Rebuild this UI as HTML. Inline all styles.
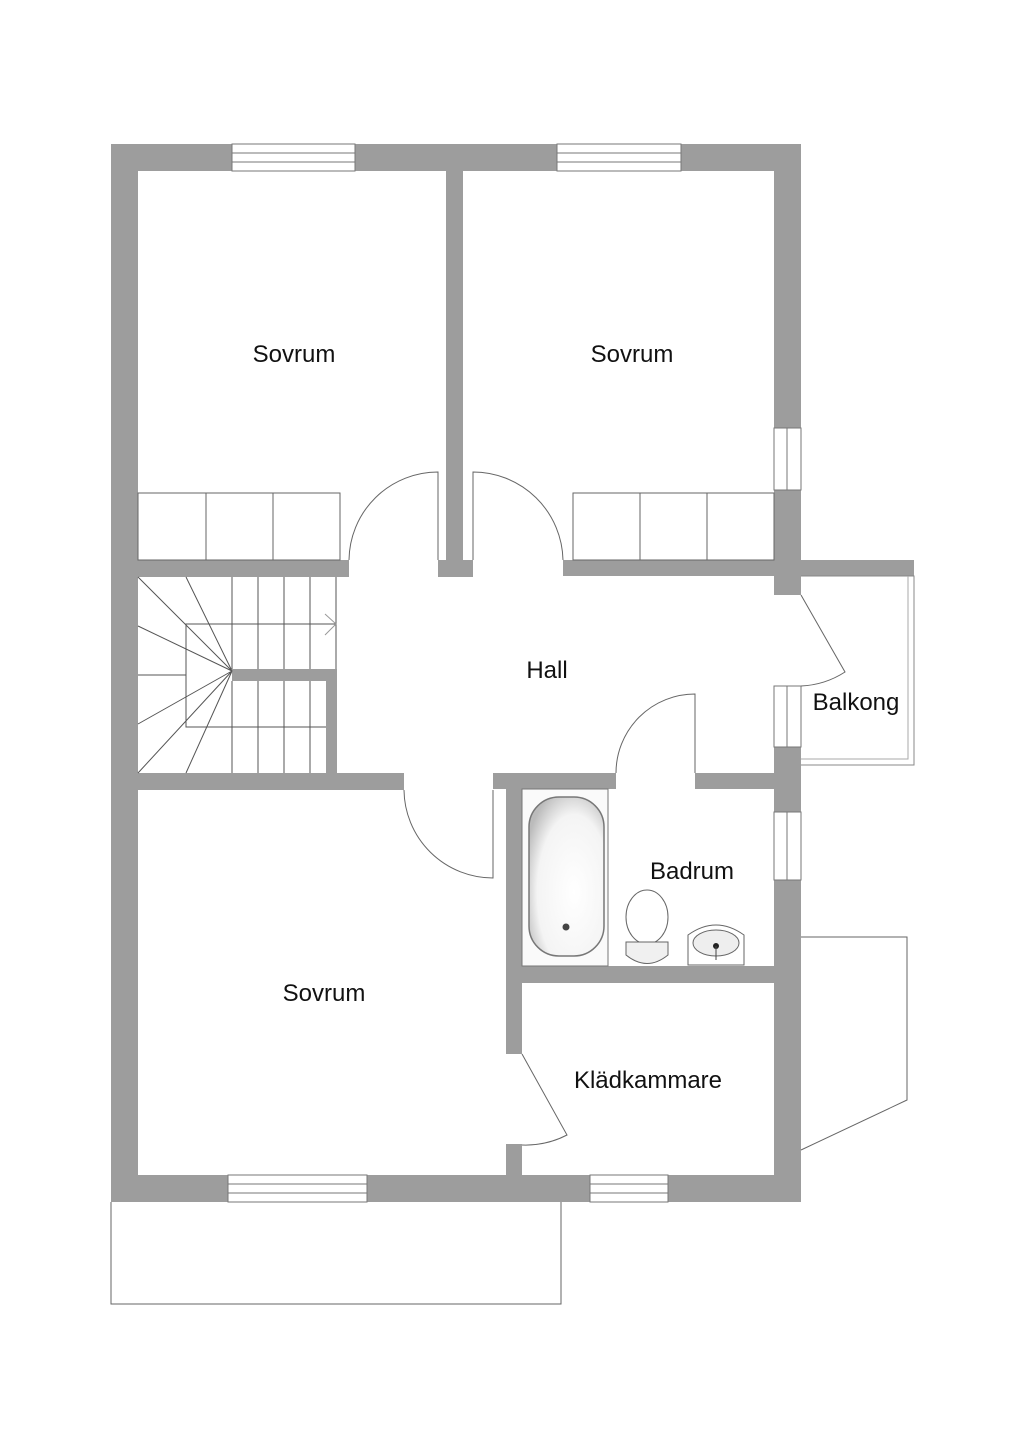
<!DOCTYPE html>
<html><head><meta charset="utf-8"><style>
html,body{margin:0;padding:0;background:#fff;}
svg{display:block}
text{font-family:"Liberation Sans",sans-serif;font-size:24px;fill:#111;text-anchor:middle;}
</style></head><body>
<svg width="1024" height="1449" viewBox="0 0 1024 1449" xmlns="http://www.w3.org/2000/svg">
<defs>
<radialGradient id="tub" cx="0.6" cy="0.6" r="0.7"><stop offset="0" stop-color="#fff"/><stop offset="0.7" stop-color="#f4f4f4"/><stop offset="1" stop-color="#bbb"/></radialGradient>
</defs>
<g fill="#9d9d9d">
<!-- outer walls -->
<rect x="111" y="144" width="690" height="27"/>
<rect x="111" y="1175" width="690" height="27"/>
<rect x="111" y="144" width="27" height="1058"/>
<rect x="774" y="144" width="27" height="451"/>
<rect x="774" y="747" width="27" height="65"/>
<rect x="774" y="880" width="27" height="322"/>
<!-- interior -->
<rect x="446" y="171" width="17" height="389"/>
<rect x="438" y="560" width="35" height="17"/>
<rect x="138" y="560" width="211" height="17"/>
<rect x="563" y="560" width="351" height="16"/>
<rect x="138" y="773" width="266" height="17"/>
<rect x="493" y="773" width="123" height="16"/>
<rect x="695" y="773" width="79" height="16"/>
<rect x="326" y="669" width="11" height="104"/>
<rect x="232" y="669" width="105" height="12"/>
<rect x="506" y="789" width="16" height="265"/>
<rect x="506" y="1144" width="16" height="31"/>
<rect x="522" y="966" width="252" height="17"/>
</g>
<g fill="#fff" stroke="#777" stroke-width="1">
<!-- windows -->
<rect x="232" y="144" width="123" height="27"/><line x1="232" y1="153" x2="355" y2="153"/><line x1="232" y1="162" x2="355" y2="162"/>
<rect x="557" y="144" width="124" height="27"/><line x1="557" y1="153" x2="681" y2="153"/><line x1="557" y1="162" x2="681" y2="162"/>
<rect x="228" y="1175" width="139" height="27"/><line x1="228" y1="1184" x2="367" y2="1184"/><line x1="228" y1="1193" x2="367" y2="1193"/>
<rect x="590" y="1175" width="78" height="27"/><line x1="590" y1="1184" x2="668" y2="1184"/><line x1="590" y1="1193" x2="668" y2="1193"/>
<rect x="774" y="428" width="27" height="62"/><line x1="787" y1="428" x2="787" y2="490"/>
<rect x="774" y="686" width="27" height="61"/><line x1="787" y1="686" x2="787" y2="747"/>
<rect x="774" y="812" width="27" height="68"/><line x1="787" y1="812" x2="787" y2="880"/>
</g>
<g fill="none" stroke="#666" stroke-width="1">
<!-- wardrobes -->
<rect x="138" y="493" width="202" height="67"/><line x1="206" y1="493" x2="206" y2="560"/><line x1="273" y1="493" x2="273" y2="560"/>
<rect x="573" y="493" width="201" height="67"/><line x1="640" y1="493" x2="640" y2="560"/><line x1="707" y1="493" x2="707" y2="560"/>
<!-- doors -->
<path d="M438 560 V472 A89 89 0 0 0 349 560"/>
<path d="M473 560 V472 A90 90 0 0 1 563 560"/>
<path d="M493 790 V878 A89 89 0 0 1 404 790"/>
<path d="M695 773 V694 A79 79 0 0 0 616 773"/>
<path d="M801 595 L845 672 A88 88 0 0 1 801 686"/>
<path d="M522 1054 L567 1135 A90 90 0 0 1 522 1145"/>
<!-- balcony -->
<path d="M801 576 H914 V765 H801" stroke="#888"/>
<path d="M801 759 H908 V576" stroke="#aaa"/>
<!-- bay -->
<path d="M801 937 H907 V1100 L801 1150"/>
<!-- terrace -->
<path d="M111 1202 V1304 H561 V1202"/>
<!-- stairs -->
<g stroke="#555">
<line x1="232" y1="577" x2="232" y2="669"/><line x1="258" y1="577" x2="258" y2="669"/><line x1="284" y1="577" x2="284" y2="669"/><line x1="310" y1="577" x2="310" y2="669"/><line x1="336" y1="577" x2="336" y2="669"/>
<line x1="232" y1="681" x2="232" y2="773"/><line x1="258" y1="681" x2="258" y2="773"/><line x1="284" y1="681" x2="284" y2="773"/><line x1="310" y1="681" x2="310" y2="773"/>
<path d="M336 624 H186 V727 H326"/>
<line x1="138" y1="675" x2="186" y2="675"/>
<path d="M138 577 L232 671 L186 577 M232 671 L138 626 M232 671 L138 724 M232 671 L138 773 M232 671 L186 773"/>
<path d="M325 614 L336 624 L325 635" stroke="#999"/>
</g>
</g>
<!-- bathroom fixtures -->
<rect x="522" y="789" width="86" height="177" fill="#fafafa" stroke="#777"/>
<rect x="529" y="797" width="75" height="159" rx="30" fill="url(#tub)" stroke="#777" stroke-width="1.5"/>
<circle cx="566" cy="927" r="3.5" fill="#444"/>
<ellipse cx="647" cy="917" rx="21" ry="27" fill="#fff" stroke="#666"/>
<path d="M626 942 H668 V955 Q647 972 626 955Z" fill="#f0f0f0" stroke="#666"/>
<path d="M688 965 V935 Q716 915 744 935 V965Z" fill="#fff" stroke="#666"/>
<ellipse cx="716" cy="943" rx="23" ry="13" fill="#eee" stroke="#666"/>
<circle cx="716" cy="946" r="3" fill="#222"/>
<line x1="716" y1="946" x2="716" y2="960" stroke="#444"/>
<text x="294" y="362">Sovrum</text>
<text x="632" y="362">Sovrum</text>
<text x="547" y="678">Hall</text>
<text x="856" y="710">Balkong</text>
<text x="692" y="879">Badrum</text>
<text x="324" y="1001">Sovrum</text>
<text x="648" y="1088">Klädkammare</text>
</svg>
</body></html>
